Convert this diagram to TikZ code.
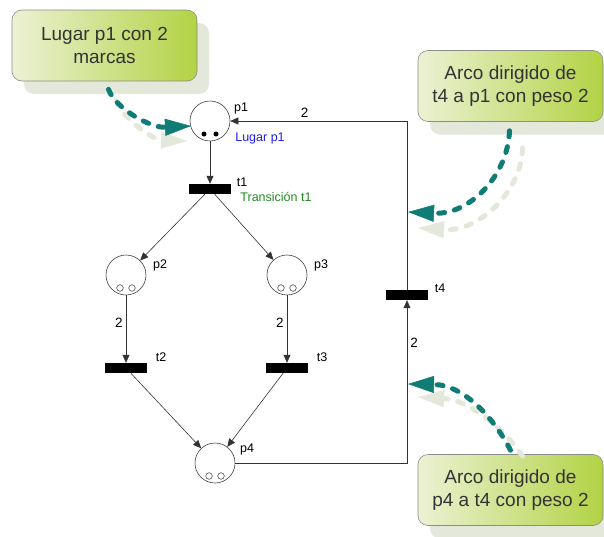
\documentclass[tikz,border=0pt]{standalone}
\usepackage{fontspec}
\setmainfont{Liberation Sans}
\usetikzlibrary{arrows.meta,shadows}

\definecolor{flecha}{RGB}{16,124,118}
\definecolor{sombra}{RGB}{228,232,218}
\definecolor{notaclara}{RGB}{236,241,212}
\definecolor{notaverde}{RGB}{178,211,68}
\definecolor{azul}{RGB}{30,30,230}
\definecolor{verde}{RGB}{30,140,30}

\tikzset{
  lugar/.style={circle,draw=black!75,line width=0.6pt,minimum size=40pt,inner sep=0pt},
  trans/.style={rectangle,fill=black,minimum width=42pt,minimum height=10pt,inner sep=0pt},
  arco/.style={draw=black!80,line width=0.6pt,-{Triangle[length=8pt,width=7pt]}},
  etiq/.style={font=\fontsize{12.5}{13}\selectfont,inner sep=0pt},
  peso/.style={font=\fontsize{13.5}{14}\selectfont,inner sep=3pt},
  nota/.style={rectangle,rounded corners=10pt,draw=black!45,line width=0.6pt,
    left color=notaclara,right color=notaverde,text=black!80,
    minimum width=185pt,minimum height=71pt,align=center,
    font=\fontsize{19}{23}\selectfont,
    drop shadow={shadow xshift=12pt,shadow yshift=-13pt,fill=sombra,opacity=1}},
  llamada/.style={draw=flecha,line width=5pt,line cap=round,dash pattern=on 6pt off 10pt,
    -{Triangle[length=26pt,width=17pt,line width=0.5pt]}},
  llamadasombra/.style={llamada,draw=sombra}
}

\begin{document}
\begin{tikzpicture}[x=1pt,y=-1pt]
\def\marcas#1{\fill ([xshift=-6pt,yshift=-13pt]#1.center) circle (2.5pt)
   ([xshift=6pt,yshift=-13pt]#1.center) circle (2.5pt);}
\def\huecas#1{\draw[black!80,line width=0.5pt] ([xshift=-6pt,yshift=-13pt]#1.center) circle (3.3pt)
   ([xshift=6pt,yshift=-13pt]#1.center) circle (3.3pt);}

\useasboundingbox (0,0) rectangle (604,536);

\node[lugar] (p1) at (210,121) {};
\node[trans] (t1) at (210,189) {};
\node[lugar] (p2) at (126,275) {};
\node[lugar] (p3) at (287,275) {};
\node[trans] (t2) at (126,368) {};
\node[trans] (t3) at (287,368) {};
\node[lugar] (p4) at (215,463) {};
\node[trans] (t4) at (407,295) {};

\marcas{p1}
\huecas{p2} \huecas{p3} \huecas{p4}

\node[etiq] (p1n) at (241,108) {p1};
\node[etiq,text=azul] (p1d) at (260,138) {Lugar p1};
\node[etiq] (t1n) at (242,182) {t1};
\node[etiq,text=verde] (t1d) at (276,197) {Transición t1};
\node[etiq] (p2n) at (160,265) {p2};
\node[etiq] (p3n) at (321,265) {p3};
\node[etiq] (t2n) at (161,357) {t2};
\node[etiq] (t3n) at (322,357) {t3};
\node[etiq] (p4n) at (247,449) {p4};
\node[etiq] (t4n) at (440,288) {t4};

\draw[arco] (p1) -- (t1);
\draw[arco] (t1) -- (p2);
\draw[arco] (t1) -- (p3);
\draw[arco] (p2) -- node[peso,left,pos=0.4] {2} (t2);
\draw[arco] (p3) -- node[peso,left,pos=0.4] {2} (t3);
\draw[arco] (t2) -- (p4);
\draw[arco] (t3) -- (p4);
\draw[arco] (p4) -| node[peso,right,pos=0.87] {2} (t4);
\draw[arco] (t4) |- node[peso,above,pos=0.79] {2} (p1);

\node[nota] (n1) at (104.5,45.5) {Lugar p1 con 2\\marcas};
\node[nota] (n2) at (510.5,86) {Arco dirigido de\\t4 a p1 con peso 2};
\node[nota] (n3) at (510.5,490) {Arco dirigido de\\p4 a t4 con peso 2};

\coordinate (a1) at (191,126);
\coordinate (a2) at (408,212);
\coordinate (a3) at (408,384);
\coordinate (s1) at (187,141);
\coordinate (s2) at (418,228);
\coordinate (s3) at (418,397);

\draw[llamadasombra] ([xshift=12pt,yshift=-19pt]n1.south) .. controls (123,120) and (155,140) .. (s1);
\draw[llamadasombra] ([xshift=12pt,yshift=-26pt]n2.south) .. controls (522,190) and (480,232) .. (s2);
\draw[llamadasombra] ([xshift=12pt,yshift=-2pt]n3.north) .. controls (505,430) and (470,400) .. (s3);

\draw[llamada] ([xshift=4pt,yshift=-8pt]n1.south) .. controls (115,108) and (150,128) .. (a1);
\draw[llamada] ([xshift=-1pt,yshift=-9pt]n2.south) .. controls (508,175) and (470,215) .. (a2);
\draw[llamada] ([xshift=0pt,yshift=4pt]n3.north) .. controls (495,420) and (465,385) .. (a3);
\end{tikzpicture}
\end{document}
